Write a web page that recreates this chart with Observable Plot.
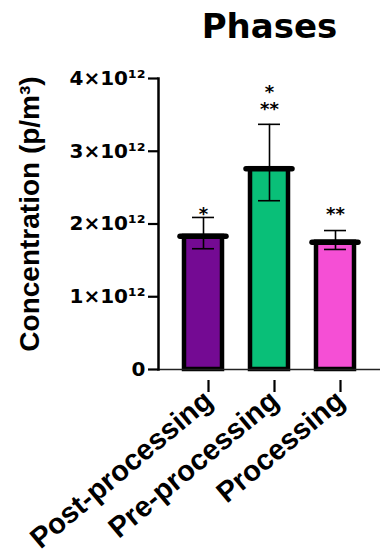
<!DOCTYPE html>
<html>
<head>
<meta charset="utf-8">
<script src="https://cdn.jsdelivr.net/npm/d3@7"></script>
<script src="https://cdn.jsdelivr.net/npm/@observablehq/plot@0.6"></script>
<style>
  html, body { margin: 0; padding: 0; background: #fff; }
  #chart svg { display: block; }
</style>
</head>
<body>
<div id="chart"></div>
<script>
const phases = ["Post-processing", "Pre-processing", "Processing"];
const means = [1.83e12, 2.76e12, 1.75e12];
const errLow = [1.66e12, 2.32e12, 1.65e12];
const errHigh = [2.09e12, 3.37e12, 1.91e12];
const barColors = ["#740A93", "#09BF78", "#F54FD5"];
const yTicks = [0, 1e12, 2e12, 3e12, 4e12];
const yTickLabels = ["0", "1×10¹²", "2×10¹²", "3×10¹²", "4×10¹²"];
const sigPhase = ["Post-processing", "Pre-processing", "Processing"];
const sigText = ["*", "*\n**", "**"];
const sigValue = [2.2e12, 3.76e12, 2.2e12];
const titleText = "Phases";
const yLabelText = "Concentration (p/m³)";

const data = phases.map((p, i) => ({phase: p, mean: means[i], low: errLow[i], high: errHigh[i]}));
const sig = sigPhase.map((p, i) => ({phase: p, text: sigText[i], value: sigValue[i]}));

const chart = Plot.plot({
  width: 380,
  height: 560,
  marginLeft: 158,
  marginRight: 0,
  marginTop: 78,
  marginBottom: 191,
  style: {fontFamily: "'Liberation Sans', Arial, sans-serif", background: "#fff", color: "#000"},
  x: {domain: phases, paddingInner: 0.4286, paddingOuter: 0.383, axis: null},
  y: {domain: [0, 4e12], axis: null},
  color: {domain: phases, range: barColors},
  marks: [
    Plot.barY(data, {x: "phase", y: "mean", fill: "phase", stroke: "#000", strokeWidth: 4.5}),
    Plot.tickY(data, {x: "phase", y: "mean", stroke: "#000", strokeWidth: 5.5, strokeLinecap: "round", insetLeft: -4, insetRight: -4}),
    Plot.ruleX(data, {x: "phase", y1: "low", y2: "high", stroke: "#000", strokeWidth: 1.6}),
    Plot.tickY(data, {x: "phase", y: "high", stroke: "#000", strokeWidth: 1.6, insetLeft: 8, insetRight: 8}),
    Plot.tickY(data, {x: "phase", y: "low", stroke: "#000", strokeWidth: 1.6, insetLeft: 8, insetRight: 8}),
    Plot.ruleY([0], {stroke: "#222", strokeWidth: 1.6}),
    Plot.frame({anchor: "left", stroke: "#000", strokeWidth: 2.5}),
    Plot.axisY({
      ticks: yTicks,
      tickFormat: (d) => yTickLabels[yTicks.indexOf(d)],
      tickSize: 10,
      tickPadding: 3,
      strokeWidth: 2.2,
      fontSize: 20,
      fontFamily: "'DejaVu Sans', sans-serif",
      fontWeight: "bold",
      label: null
    }),
    Plot.axisX({
      tickSize: 12,
      tickPadding: 4,
      strokeWidth: 2.2,
      tickRotate: -40,
      fontSize: 29,
      fontWeight: "bold",
      dx: 5,
      dy: 11,
      label: null
    }),
    Plot.text(sig, {x: "phase", y: "value", text: "text", fontSize: 18, fontFamily: "'DejaVu Sans', sans-serif", fontWeight: "bold", lineAnchor: "middle", lineHeight: 0.95, dy: 5}),
    Plot.text([titleText], {frameAnchor: "top", lineAnchor: "middle", dy: -51, fontSize: 34, fontFamily: "'DejaVu Sans', sans-serif", fontWeight: "bold"}),
    Plot.text([yLabelText], {frameAnchor: "left", textAnchor: "middle", dx: -128, dy: -10, rotate: -90, fontSize: 28, fontWeight: "bold"})
  ]
});
document.getElementById("chart").appendChild(chart);
</script>
</body>
</html>
